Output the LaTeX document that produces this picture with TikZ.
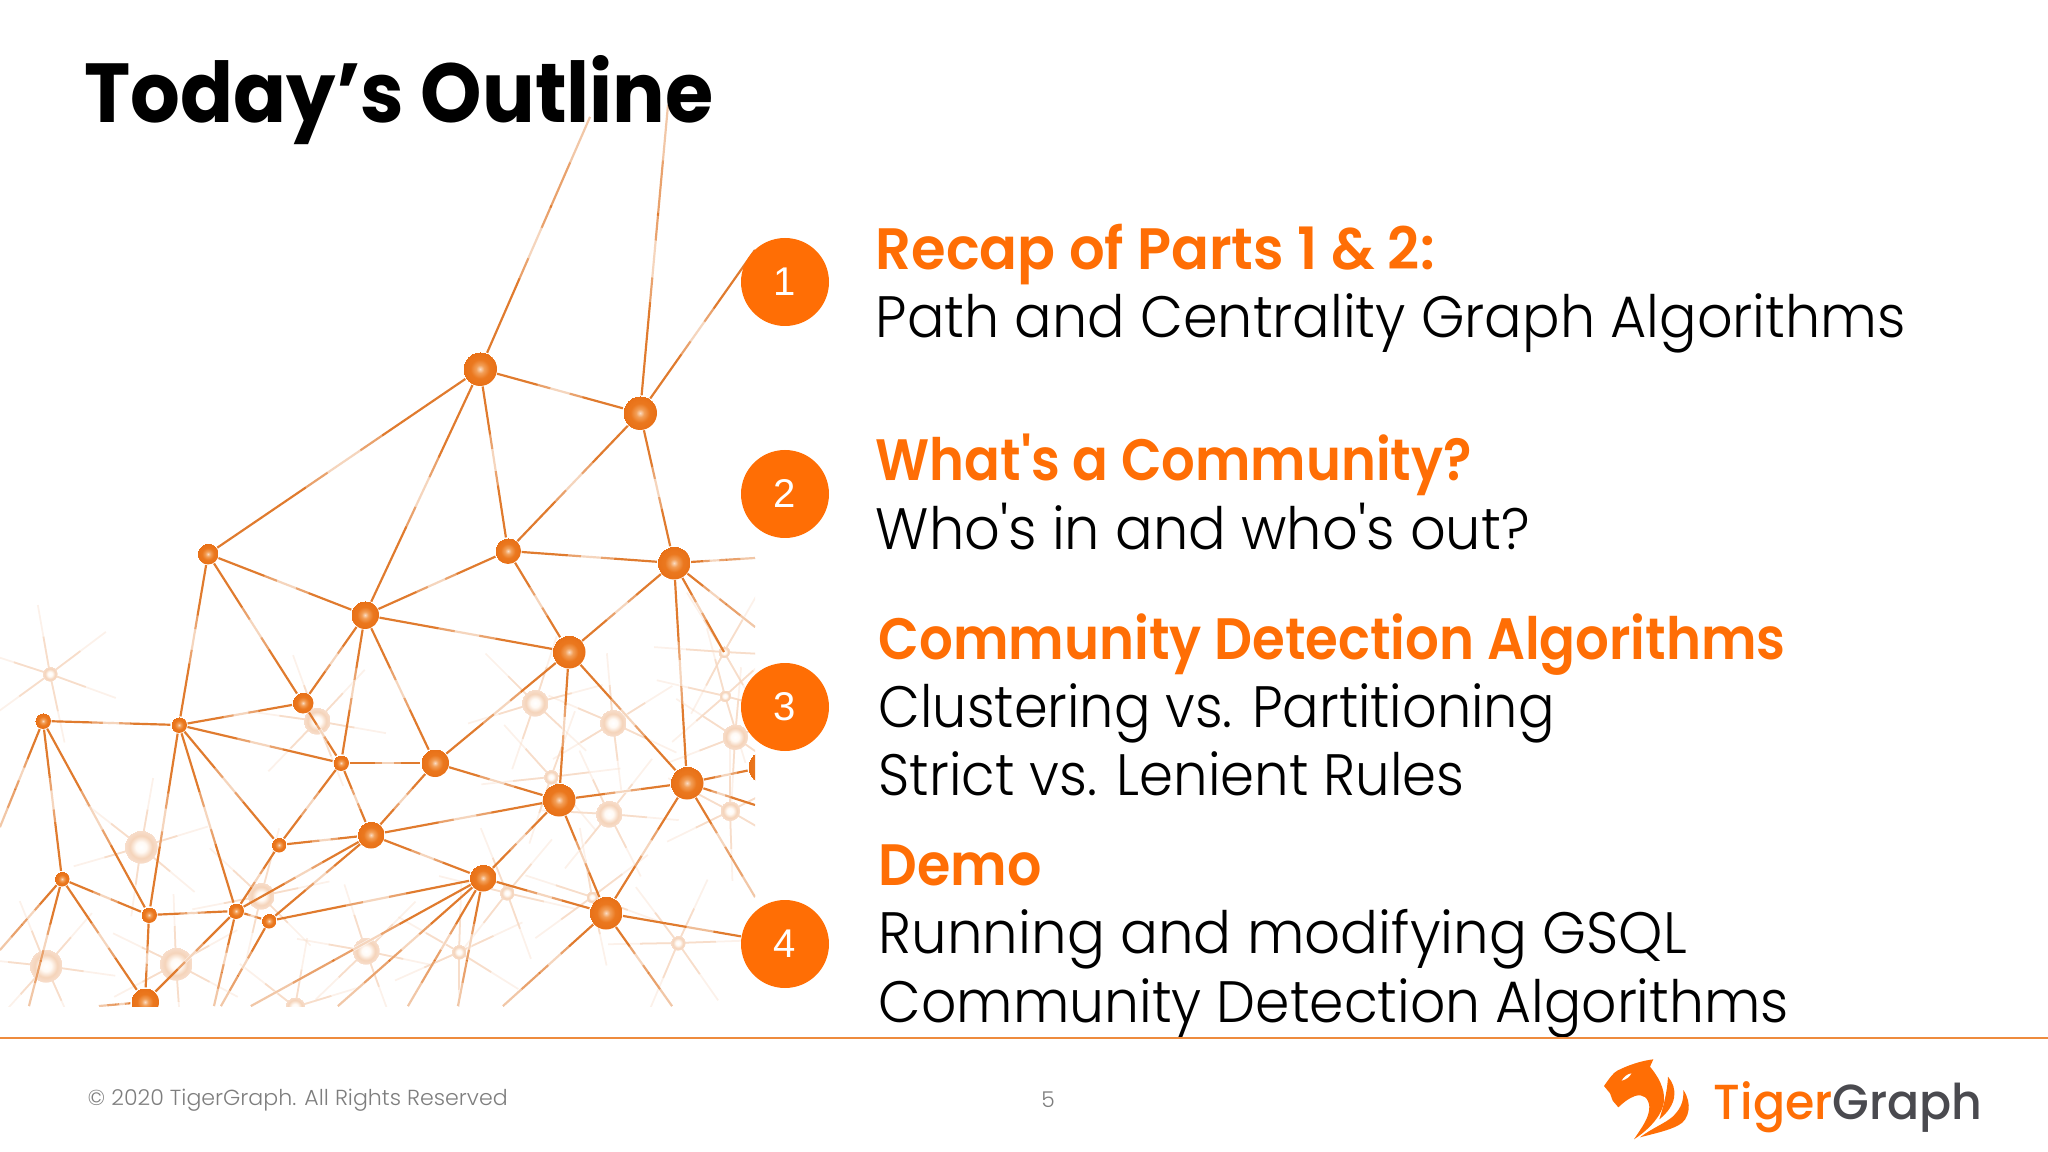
\documentclass[tikz,border=0pt]{standalone}
\usepackage{fontspec}
\usepackage{graphicx}
\usetikzlibrary{calc}
\setmainfont{Poppins}
\newfontfamily\bodyfont{Poppins Light}
\newfontfamily\headfont{Poppins SemiBold}
\newfontfamily\titlefont{Poppins Bold}
\newfontfamily\logofont{Poppins Medium}
\newfontfamily\numfont{Liberation Sans}
\definecolor{tgorange}{HTML}{FF6E05}
\definecolor{edgeor}{HTML}{E07B2E}
\definecolor{faintor}{HTML}{F6D8C2}
\definecolor{rulecol}{HTML}{EE8B3E}
\definecolor{footgray}{HTML}{7E7E7E}
\definecolor{graphgray}{HTML}{4A4A4F}
\pgfdeclareradialshading{netball}{\pgfpointorigin}{rgb(0bp)=(0.98,0.86,0.76); rgb(6bp)=(0.95,0.62,0.34); rgb(14bp)=(0.92,0.47,0.12); rgb(25bp)=(0.91,0.44,0.09)}
\pgfdeclareradialshading{paleball}{\pgfpointorigin}{rgb(0bp)=(1,1,1); rgb(8bp)=(1,0.98,0.96); rgb(17bp)=(0.96,0.83,0.73); rgb(25bp)=(0.97,0.87,0.80)}
\pgfdeclarelayer{faintlayer}
\pgfdeclarelayer{edgelayer}
\pgfsetlayers{faintlayer,edgelayer,main}
\newlength\pxunit
\setlength\pxunit{0.01cm}
\newcommand{\fitw}[2]{\resizebox{#1\pxunit}{\height}{#2}}
\tikzset{
  ball/.style={circle,inner sep=0pt,shading=netball},
  paleb/.style={circle,inner sep=0pt,shading=paleball},
  netedge/.style={edgeor,line width=0.62pt},
  glint/.style={white,line width=1pt},
  spike/.style={faintor,line width=0.5pt},
  badge/.style={circle,fill=tgorange,inner sep=0pt,minimum size=88*0.01cm,text=white,font=\numfont\fontsize{11.4}{13}\selectfont},
  head/.style={anchor=base west,inner sep=0pt,text=tgorange,font=\headfont\fontsize{16.6}{20}\selectfont},
  body/.style={anchor=base west,inner sep=0pt,text=black,font=\bodyfont\fontsize{16.6}{20}\selectfont},
  foot/.style={anchor=base west,inner sep=0pt,text=footgray,font=\bodyfont\fontsize{6.2}{8}\selectfont},
}
\begin{document}
\begin{tikzpicture}[x=0.01cm,y=-0.01cm]
\useasboundingbox (0,0) rectangle (2048,1152);
% network nodes
\begin{scope}
\clip (0,90) rectangle (755,1006);
\foreach \n/\x/\y/\d in {A/480/369/34,B/640/413/34,C/508/551/26,D/674/563/33,E/208/554/21,F/365/615/28,G/569/652/33,H/303/703/21,I/179/725/16,J/43/721/16,K/341/763/16,L/435/763/28,M/559/800/33,N/687/783/33,O/371/835/27,P/279/845/15,Q/483/878/27,R/606/913/33,S/62/879/15,T/149/915/16,U/236/911/16,V/269/921/15,W/145/1002/28,X/765/767/34}
  \node[ball,minimum size=\d*0.01cm] (\n) at (\x,\y) {};
\end{scope}
\foreach \n/\x/\y in {t1/590/117,t2/668/105,t3/755/250,dr1/755/558,dr2/755/627,dr3/724/652,nr1/755/805,nr3/755/897,jl/0/827,sl1/0/950,sd/29/1006,wl/99/1006,ud/214/1006,vd/221/1006,qd1/458/1006,qd2/251/1006,qd3/338/1006,qd4/408/1006,rd1/503/1006,rd2/672/1006}
  \coordinate (\n) at (\x,\y);
% number badges
\node[badge] (c1) at (785,282) {1};
\node[badge] (c2) at (785,494) {2};
\node[badge] (c3) at (785,707) {3};
\node[badge] (c4) at (785,944) {4};
% edges
\begin{pgfonlayer}{edgelayer}
\begin{scope}
\clip (0,90) rectangle (755,1006);
\foreach \a/\b in {A/B,A/E,A/F,A/C,A/t1,B/t2,B/t3,B/C,B/D,C/D,C/F,C/G,D/G,D/N,D/dr1,D/dr2,D/dr3,E/F,E/H,E/I,F/H,F/K,F/L,F/G,G/L,G/M,G/N,H/I,H/K,I/K,I/J,I/P,I/U,I/T,J/T,J/S,J/jl,K/L,K/O,K/P,L/O,L/M,M/N,M/O,M/Q,M/R,N/R,N/nr1,N/X,N/nr3,O/P,O/Q,O/U,O/V,P/U,U/T,U/V,U/W,U/ud,V/Q,V/vd,Q/R,Q/qd1,Q/qd2,Q/qd3,Q/qd4,R/rd1,R/rd2,T/S,T/W,S/W,S/sd,S/sl1,W/wl}{
  \draw[netedge] (\a) -- (\b);
  \draw[glint,opacity=.3] ($(\a)!.36!(\b)$) -- ($(\a)!.64!(\b)$);
  \draw[glint,opacity=.55] ($(\a)!.44!(\b)$) -- ($(\a)!.56!(\b)$);
}
\foreach \a/\b in {A/t1,B/t2,D/dr1,D/dr2,N/nr3,J/jl,S/sl1,S/sd,W/wl,U/ud,V/vd,Q/qd1,Q/qd2,Q/qd3,Q/qd4,R/rd1,R/rd2}{
  \draw[glint,opacity=.3] ($(\a)!.65!(\b)$) -- (\b);
  \draw[glint,opacity=.4] ($(\a)!.82!(\b)$) -- (\b);
}
\end{scope}
\draw[netedge] (R) -- (c4);
\draw[glint,opacity=.5] ($(R)!.45!(c4)$) -- ($(R)!.6!(c4)$);
\end{pgfonlayer}
% pale background network
\begin{pgfonlayer}{faintlayer}
\begin{scope}
\clip (0,90) rectangle (755,1006);
\foreach \n/\x/\y/\d/\r in {p1/50/674/15/20,p2/141/847/33/40,p3/317/721/27/10,p4/535/703/27/-15,p5/613/723/27/25,p6/724/652/12/60,p7/725/696/12/15,p8/735/737/26/35,p9/551/777/15/50,p10/609/814/27/5,p11/730/811/20/30,p12/507/893/15/70,p13/592/897/12/20,p14/261/896/27/45,p15/366/951/27/12,p16/459/952/15/32,p17/678/943/15/55,p18/46/966/33/8,p19/176/964/33/28,p20/295/1007/20/40}{
  \node[paleb,minimum size=\d*0.01cm] (\n) at (\x,\y) {};
  \foreach \ang in {0,58,124,178,240,303}{
    \draw[spike,opacity=.35] (\n.center) -- ++(\r+\ang:70);
    \draw[spike,opacity=.8] (\n.center) -- ++(\r+\ang:38);
  }
  \node[paleb,minimum size=\d*0.01cm] at (\x,\y) {};
}
\end{scope}
\end{pgfonlayer}
% title
\node[anchor=base west,inner sep=0pt,font=\titlefont\fontsize{23.8}{30}\selectfont] (title) at (84,123) {\fitw{629}{Today’s Outline}};
% agenda text
\node[head] (h1) at (875,270) {\fitw{559}{Recap of Parts 1 \& 2:}};
\node[body] (b1) at (875,338) {\fitw{1030}{Path and Centrality Graph Algorithms}};
\node[head] (h2) at (875,481) {\fitw{596}{What's a Community?}};
\node[body] (b2) at (875,549) {\fitw{654}{Who's in and who's out?}};
\node[head] (h3) at (878,659) {\fitw{907}{Community Detection Algorithms}};
\node[body] (b3a) at (878,727) {\fitw{676}{Clustering vs. Partitioning}};
\node[body] (b3b) at (878,795) {\fitw{586}{Strict vs. Lenient Rules}};
\node[head] (h4) at (878,885) {\fitw{163}{Demo}};
\node[body] (b4a) at (878,953) {\fitw{808}{Running and modifying GSQL}};
\node[body] (b4b) at (878,1022) {\fitw{910}{Community Detection Algorithms}};
% footer
\coordinate (ruleL) at (0,1038);
\coordinate (ruleR) at (2048,1038);
\draw[rulecol,line width=0.65pt] (ruleL) -- (ruleR);
\node[foot] (copy) at (87,1105) {\fitw{420}{© 2020 TigerGraph. All Rights Reserved}};
\node[foot,anchor=base] (page) at (1048,1107) {5};
% logo
\begin{scope}[shift={(1590,1050)},scale=0.3333]
\fill[tgorange] (42,108) .. controls (58,85) and (70,68) .. (82,62) .. controls (115,45) and (155,32) .. (190,28)
  -- (180,50) .. controls (205,80) and (224,115) .. (222,150) .. controls (220,195) and (175,240) .. (132,268)
  .. controls (155,232) and (178,205) .. (178,170) .. controls (176,145) and (160,130) .. (135,138)
  .. controls (115,145) and (100,158) .. (85,172) -- (68,152) -- (60,130) -- cycle;
\fill[tgorange] (234,80) .. controls (264,115) and (262,165) .. (208,208) .. controls (220,170) and (232,125) .. (234,80) -- cycle;
\fill[tgorange] (280,120) .. controls (308,160) and (298,210) .. (265,226) .. controls (235,242) and (195,250) .. (150,262) .. controls (190,232) and (222,222) .. (248,200) .. controls (268,180) and (282,160) .. (280,120) -- cycle;
\fill[white] (95,92) .. controls (102,80) and (112,72) .. (124,70) .. controls (120,80) and (110,88) .. (95,92) -- cycle;
\end{scope}
\node[anchor=base west,inner sep=0pt,font=\logofont\fontsize{14}{16}\selectfont] (logotext) at (1713,1119) {\fitw{269}{\textcolor{tgorange}{Tiger}\textcolor{graphgray}{Graph}}};
\end{tikzpicture}
\end{document}
